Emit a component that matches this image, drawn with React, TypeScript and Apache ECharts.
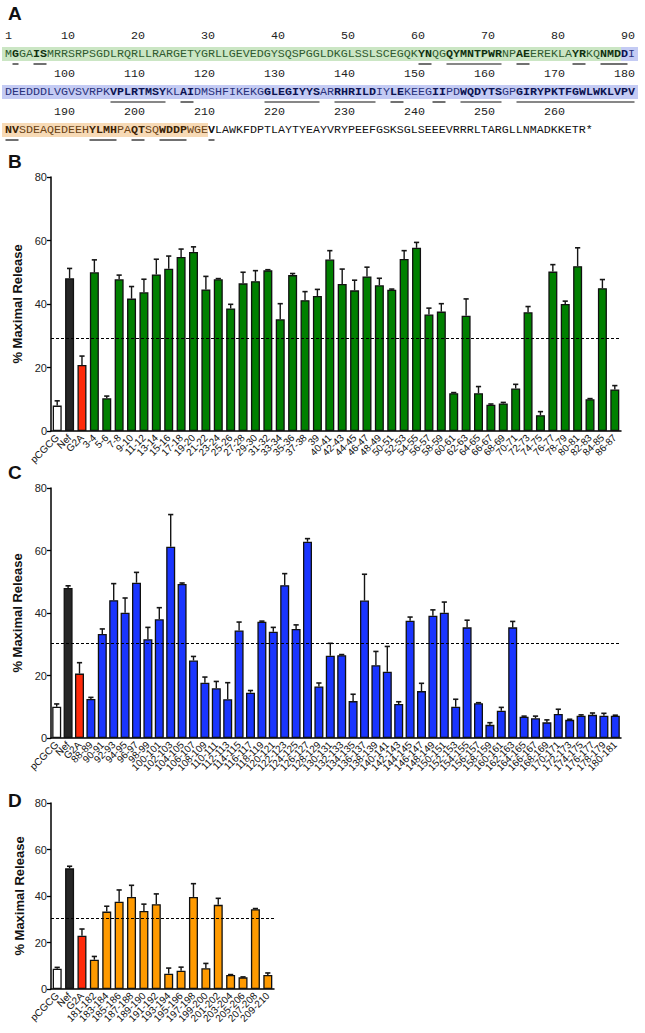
import React, { useEffect, useRef } from "react";
import * as echarts from "echarts";

// ---------- Panel A data ----------
const SEQ_LINES = [
  "MGGAISMRRSRPSGDLRQRLLRARGETYGRLLGEVEDGYSQSPGGLDKGLSSLSCEGQKYNQGQYMNTPWRNPAEEREKLAYRKQNMDDI",
  "DEEDDDLVGVSVRPKVPLRTMSYKLAIDMSHFIKEKGGLEGIYYSARRHRILDIYLEKEEGIIPDWQDYTSGPGIRYPKTFGWLWKLVPV",
  "NVSDEAQEDEEHYLMHPAQTSQWDDPWGEVLAWKFDPTLAYTYEAYVRYPEEFGSKSGLSEEEVRRRLTARGLLNMADKKETR*",
];
const LINE_STARTS = [1, 91, 181];
const RULER_MARKS = [
  [1, 10, 20, 30, 40, 50, 60, 70, 80, 90],
  [100, 110, 120, 130, 140, 150, 160, 170, 180],
  [190, 200, 210, 220, 230, 240, 250, 260],
];
const BOLD_RANGES = [
  [2, 2], [5, 6], [60, 61], [64, 71], [74, 75], [82, 83], [86, 89],
  [106, 113], [116, 117], [128, 135], [138, 143], [146, 147], [152, 153], [156, 161], [164, 180],
  [181, 182], [193, 196], [199, 200], [203, 206], [210, 210],
];
const DOMAINS = [
  { from: 1, to: 88, band: "#cbe6c4", text: "#2f5a2f", bold: "#103010" },
  { from: 89, to: 180, band: "#c4cbf4", text: "#28307a", bold: "#0b1250" },
  { from: 181, to: 209, band: "#f7dab6", text: "#6a4214", bold: "#3b2204" },
];

// ---------- Panel B data ----------
const B_CATS = ["pCGCG", "Nef", "G2A", "3-4", "5-6", "7-8", "9-10", "11-12", "13-14", "15-16", "17-18", "19-20", "21-22", "23-24", "25-26", "27-28", "29-30", "31-32", "33-34", "35-36", "37-38", "39", "40-41", "42-43", "44-45", "46-47", "48-49", "50-51", "52-53", "54-55", "56-57", "58-59", "60-61", "62-63", "64-65", "66-67", "68-69", "70-71", "72-73", "74-75", "76-77", "78-79", "80-81", "82-83", "84-85", "86-87"];
const B_VALUES = [8.0, 48.1, 20.8, 50.0, 10.3, 47.8, 41.7, 43.7, 49.3, 51.1, 54.8, 56.4, 44.6, 47.8, 38.6, 46.5, 47.2, 50.6, 35.2, 49.1, 41.2, 42.5, 54.0, 46.3, 44.3, 48.7, 45.9, 44.5, 54.2, 57.7, 36.7, 37.6, 11.9, 36.3, 11.9, 8.3, 8.7, 13.4, 37.4, 5.0, 50.2, 40.0, 51.9, 10.0, 45.0, 13.1];
const B_ERRORS = [1.5, 3.1, 2.8, 3.9, 0.7, 1.3, 3.8, 4.1, 4.8, 4.0, 2.5, 1.6, 4.1, 0.2, 1.3, 3.5, 3.3, 0.2, 4.9, 0.5, 2.7, 2.1, 2.8, 4.7, 3.2, 2.9, 2.2, 0.2, 2.6, 1.7, 2.0, 2.5, 0.2, 5.3, 2.1, 0.2, 0.3, 1.3, 1.8, 1.1, 2.2, 0.9, 5.8, 0.2, 2.7, 1.2];
const B_THRESHOLD = 29.3;

// ---------- Panel C data ----------
const C_CATS = ["pCGCG", "Nef", "G2A", "88-89", "90-91", "92-93", "94-95", "96-97", "98-99", "100-101", "102-103", "104-105", "106-107", "108-109", "110-111", "112-113", "114-115", "116-117", "118-119", "120-121", "122-123", "124-125", "126-127", "128-129", "130-131", "132-133", "134-135", "136-137", "138-139", "140-141", "142-143", "144-145", "146-147", "148-149", "150-151", "152-153", "154-155", "156-157", "158-159", "160-161", "162-163", "164-165", "166-167", "168-169", "170-171", "172-173", "174-175", "176-177", "178-179", "180-181"];
const C_VALUES = [10.0, 48.0, 20.6, 12.5, 33.3, 44.1, 40.1, 49.7, 31.6, 38.0, 61.2, 49.3, 24.8, 17.7, 15.9, 12.4, 34.4, 14.5, 37.2, 34.0, 48.9, 34.9, 62.8, 16.5, 26.3, 26.5, 11.8, 44.0, 23.3, 21.2, 10.9, 37.5, 15.0, 39.1, 40.1, 10.0, 35.4, 11.1, 4.2, 8.7, 35.4, 6.8, 6.3, 5.0, 7.7, 5.8, 7.1, 7.4, 7.1, 7.1];
const C_ERRORS = [0.9, 0.7, 3.5, 0.5, 1.6, 5.3, 4.7, 3.3, 3.8, 3.7, 10.3, 0.3, 1.3, 1.8, 2.2, 5.3, 2.7, 0.7, 0.2, 1.4, 3.7, 1.3, 1.0, 1.1, 4.0, 0.2, 2.2, 8.4, 4.4, 8.1, 0.7, 1.2, 2.5, 1.9, 3.4, 2.4, 2.3, 0.2, 0.7, 1.1, 1.9, 0.2, 0.7, 0.8, 1.5, 0.2, 0.3, 0.6, 0.8, 0.2];
const C_THRESHOLD = 30.4;

// ---------- Panel D data ----------
const D_CATS = ["pCGCG", "Nef", "G2A", "181-182", "183-184", "185-186", "187-188", "189-190", "191-192", "193-194", "195-196", "197-198", "199-200", "201-202", "203-204", "205-206", "207-208", "209-210"];
const D_VALUES = [8.7, 51.9, 22.9, 12.6, 33.3, 37.5, 39.6, 33.6, 36.5, 6.6, 7.9, 39.6, 8.9, 36.2, 6.0, 5.0, 34.3, 6.0];
const D_ERRORS = [0.6, 0.9, 2.9, 1.4, 2.3, 5.1, 5.0, 2.9, 4.4, 2.4, 1.5, 5.7, 2.1, 2.8, 0.2, 0.2, 0.3, 0.9];
const D_THRESHOLD = 30.5;

const PANELS = [
  { cats: B_CATS, values: B_VALUES, errors: B_ERRORS, threshold: B_THRESHOLD, color: "#008000" },
  { cats: C_CATS, values: C_VALUES, errors: C_ERRORS, threshold: C_THRESHOLD, color: "#1a35ff" },
  { cats: D_CATS, values: D_VALUES, errors: D_ERRORS, threshold: D_THRESHOLD, color: "#ff9a00" },
];

const GRIDS = [
  { left: 51, top: 177, width: 570, height: 254 },
  { left: 51, top: 488, width: 570, height: 250 },
  { left: 51, top: 803, width: 223, height: 186 },
];

const SANS = "'Liberation Sans', Arial, Helvetica, sans-serif";
const MONO = "'Liberation Mono', 'DejaVu Sans Mono', monospace";

// Layout of panel A
const X0 = 5;
const CW = 7.0;
const FS = CW / 0.6;
const RULER_Y = [36, 74, 112];
const SEQ_Y = [54, 92, 130];

function isBold(p: number) {
  return BOLD_RANGES.some(([a, b]) => p >= a && p <= b);
}
function domainOf(p: number) {
  return DOMAINS.find((d) => p >= d.from && p <= d.to);
}

function buildPanelA(): any[] {
  const els: any[] = [];
  SEQ_LINES.forEach((line, li) => {
    const start = LINE_STARTS[li];
    const end = start + line.length - 1;
    const sy = SEQ_Y[li];
    DOMAINS.forEach((d) => {
      const a = Math.max(d.from, start);
      const b = Math.min(d.to, end);
      if (a > b) return;
      const xa = X0 + (a - start) * CW - (a === start ? 3 : 0);
      const xb = X0 + (b - start + 1) * CW + (b === end ? 3 : 0);
      els.push({
        type: "rect",
        shape: { x: xa, y: sy - 7, width: xb - xa, height: 14 },
        style: { fill: d.band },
        z: 1,
      });
    });
    let runStart = 0;
    const keyOf = (i: number) => {
      const p = start + i;
      const d = domainOf(p);
      return (isBold(p) ? "b" : "n") + (d ? d.from : 0);
    };
    for (let i = 1; i <= line.length; i++) {
      if (i === line.length || keyOf(i) !== keyOf(runStart)) {
        const p = start + runStart;
        const bold = isBold(p);
        const d = domainOf(p);
        const fill = d ? (bold ? d.bold : d.text) : "#111";
        els.push({
          type: "text",
          x: X0 + runStart * CW,
          y: sy,
          z: 3,
          style: {
            text: line.slice(runStart, i),
            fontFamily: MONO,
            fontSize: FS,
            fontWeight: bold ? "bold" : "normal",
            fill,
            align: "left",
            textAlign: "left",
            verticalAlign: "middle",
            textVerticalAlign: "middle",
          },
        });
        runStart = i;
      }
    }
    BOLD_RANGES.forEach(([a, b]) => {
      if (b < start || a > end) return;
      const xa = X0 + (a - start) * CW + 0.5;
      const xb = X0 + (b - start + 1) * CW - 0.5;
      els.push({
        type: "line",
        shape: { x1: xa, y1: sy + 10, x2: xb, y2: sy + 10 },
        style: { stroke: "#111", lineWidth: 1.2 },
        z: 3,
      });
    });
    RULER_MARKS[li].forEach((m) => {
      els.push({
        type: "text",
        x: X0 + (m - start + 1) * CW,
        y: RULER_Y[li],
        z: 3,
        style: {
          text: String(m),
          fontFamily: MONO,
          fontSize: FS,
          fill: "#222",
          align: "right",
          textAlign: "right",
          verticalAlign: "middle",
          textVerticalAlign: "middle",
        },
      });
    });
  });
  return els;
}

function panelLetter(t: string, x: number, y: number) {
  return {
    type: "text",
    x,
    y,
    z: 5,
    style: {
      text: t,
      fontFamily: SANS,
      fontSize: 19,
      fontWeight: "bold",
      fill: "#111",
      align: "left",
      textAlign: "left",
      verticalAlign: "middle",
      textVerticalAlign: "middle",
    },
  };
}

const errRender = (params: any, api: any) => {
  const v = api.value(1);
  const e = api.value(2);
  if (!(e > 0)) return null;
  const x = api.value(0);
  const p0 = api.coord([x, v]);
  const p1 = api.coord([x, v + e]);
  const cap = 2.6;
  return {
    type: "group",
    children: [
      { type: "line", shape: { x1: p0[0], y1: p0[1], x2: p1[0], y2: p1[1] }, style: { stroke: "#151515", lineWidth: 1.4 } },
      { type: "line", shape: { x1: p1[0] - cap, y1: p1[1], x2: p1[0] + cap, y2: p1[1] }, style: { stroke: "#151515", lineWidth: 1.6 } },
    ],
  };
};

function barColor(i: number, base: string) {
  if (i === 0) return "#ffffff";
  if (i === 1) return "#262626";
  if (i === 2) return "#ff2a0a";
  return base;
}

export default function App() {
  const ref = useRef<HTMLDivElement>(null);
  useEffect(() => {
    if (!ref.current) return;
    const chart = echarts.init(ref.current, null, { renderer: "svg" });
    const xAxis: any[] = [];
    const yAxis: any[] = [];
    const series: any[] = [];
    PANELS.forEach((p, k) => {
      xAxis.push({
        type: "category",
        gridIndex: k,
        data: p.cats,
        axisLine: { lineStyle: { color: "#000", width: 1.5 } },
        axisTick: { alignWithLabel: true, length: 4, lineStyle: { color: "#000", width: 1.3 } },
        axisLabel: { rotate: 45, interval: 0, fontSize: 10, fontFamily: SANS, color: "#111", margin: 5 },
      });
      yAxis.push({
        type: "value",
        gridIndex: k,
        min: 0,
        max: 80,
        interval: 20,
        axisLine: { show: true, lineStyle: { color: "#000", width: 1.5 } },
        axisTick: { show: true, length: 4, lineStyle: { color: "#000", width: 1.3 } },
        axisLabel: { fontSize: 11, fontFamily: SANS, color: "#222", margin: 4 },
        splitLine: { show: false },
        name: "% Maximal Release",
        nameLocation: "middle",
        nameGap: 25,
        nameTextStyle: { fontSize: 13, fontWeight: "bold", fontFamily: SANS, color: "#111" },
      });
      series.push({
        type: "bar",
        xAxisIndex: k,
        yAxisIndex: k,
        barWidth: 9,
        data: p.values.map((v, i) => ({ value: v, itemStyle: { color: barColor(i, p.color) } })),
        itemStyle: { borderColor: "#111", borderWidth: 1.3 },
        markLine: {
          silent: true,
          symbol: ["none", "none"],
          label: { show: false },
          lineStyle: { type: [3, 2], color: "#000", width: 1.2 },
          data: [{ yAxis: p.threshold }],
        },
        z: 2,
      });
      series.push({
        type: "custom",
        xAxisIndex: k,
        yAxisIndex: k,
        renderItem: errRender,
        data: p.values.map((v, i) => [i, v, p.errors[i]]),
        encode: { x: 0, y: 1 },
        z: 3,
      });
    });
    chart.setOption({
      animation: false,
      backgroundColor: "#ffffff",
      grid: GRIDS,
      xAxis,
      yAxis,
      series,
      graphic: [
        ...buildPanelA(),
        panelLetter("A", 8, 13),
        panelLetter("B", 8, 161),
        panelLetter("C", 8, 472),
        panelLetter("D", 8, 800),
      ],
    });
    return () => chart.dispose();
  }, []);
  return (
    <div
      ref={ref}
      style={{ position: "absolute", left: 0, top: 0, width: 645, height: 1033, background: "#fff" }}
    />
  );
}
